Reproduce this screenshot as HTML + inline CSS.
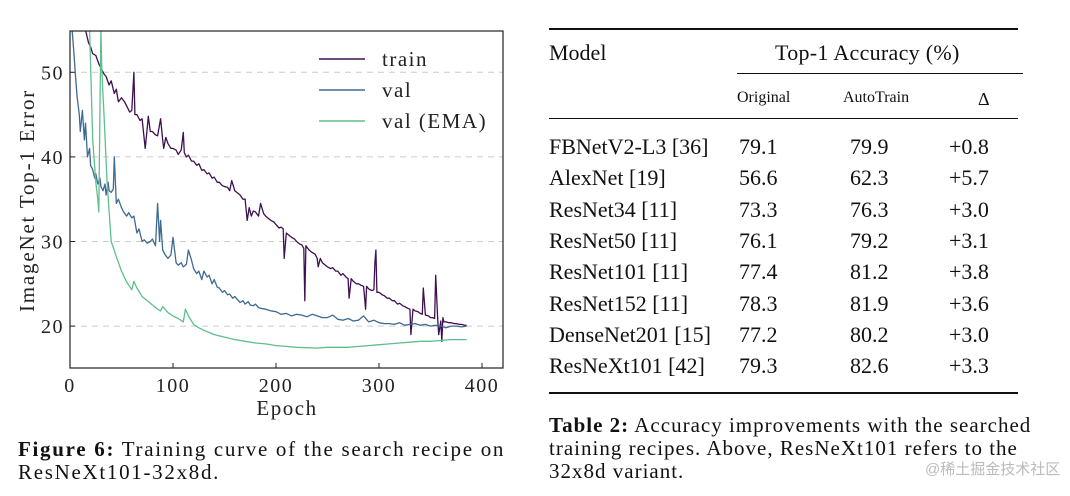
<!DOCTYPE html>
<html><head><meta charset="utf-8">
<style>
html,body{margin:0;padding:0;background:#fff;}
body{width:1070px;height:496px;position:relative;overflow:hidden;font-family:"Liberation Serif","Noto Serif CJK SC",serif;color:#111;}
.abs{position:absolute;white-space:nowrap;}
.rule{position:absolute;background:#111;}
.cap{font-size:21px;line-height:23px;}
</style></head><body>
<svg width="520" height="420" style="position:absolute;left:0;top:0" id="chart"></svg>

<div class="rule" style="left:549px;top:28px;width:469px;height:2px"></div>
<div class="abs" style="left:549px;top:40px;font-size:22px">Model</div>
<div class="abs" style="left:775px;top:40px;font-size:22px;letter-spacing:0.3px">Top-1 Accuracy (%)</div>
<div class="rule" style="left:737px;top:73px;width:286px;height:1px"></div>
<div class="abs" style="left:737px;top:89px;font-size:16px">Original</div>
<div class="abs" style="left:843px;top:89px;font-size:16px">AutoTrain</div>
<div class="abs" style="left:978px;top:89px;font-size:18px">Δ</div>
<div class="rule" style="left:549px;top:118px;width:469px;height:1px"></div>
<div id="rows"></div>
<div class="rule" style="left:549px;top:392px;width:469px;height:2px"></div>

<div class="abs cap" style="left:18px;top:438px;letter-spacing:1.7px"><b>Figure 6:</b> Training curve of the search recipe on<br>ResNeXt101-32x8d.</div>
<div class="abs cap" style="left:549px;top:414px;letter-spacing:1px"><b>Table 2:</b> Accuracy improvements with the searched<br>training recipes. Above, ResNeXt101 refers to the<br>32x8d variant.</div>
<div class="abs" style="left:925px;top:458px;font-size:15px;color:#bbb;font-family:'Liberation Sans','Noto Sans CJK SC',sans-serif">@稀土掘金技术社区</div>

<script>
const models=["FBNetV2-L3 [36]","AlexNet [19]","ResNet34 [11]","ResNet50 [11]","ResNet101 [11]","ResNet152 [11]","DenseNet201 [15]","ResNeXt101 [42]"];
const original=["79.1","56.6","73.3","76.1","77.4","78.3","77.2","79.3"];
const autotrain=["79.9","62.3","76.3","79.2","81.2","81.9","80.2","82.6"];
const delta=["+0.8","+5.7","+3.0","+3.1","+3.8","+3.6","+3.0","+3.3"];
const rowsEl=document.getElementById('rows');
models.forEach((m,i)=>{
  const top=134+i*31.3;
  [[m,549,'model-name'],[original[i],739,'original-value'],[autotrain[i],850,'autotrain-value'],[delta[i],949,'delta-value']].forEach(([t,x,n])=>{
    const d=document.createElement('div');d.className='abs';
    d.style.cssText=`left:${x}px;top:${top}px;font-size:22px`;
    d.textContent=t;
    
    
    rowsEl.appendChild(d);
  });
});

// chart data
const xTicks=[0,100,200,300,400];
const yTicks=[20,30,40,50];
const trainEpochs=[8,12,15,18,20,22,25,28,30,33,35,38,40,43,45,47,50,53,55,58,60,62,63,65,68,70,73,75,76,78,80,83,85,88,90,91,93,95,98,100,103,105,108,110,111,113,115,118,120,123,125,128,130,133,135,138,140,143,145,148,150,153,155,157,160,163,165,168,170,172,174,176,178,180,183,185,188,190,193,195,198,200,203,205,207,208,210,213,215,218,220,223,225,227,228,229,232,235,238,240,241,243,245,248,250,253,255,258,260,263,265,268,270,271,273,275,278,280,283,285,287,288,290,293,295,296,297,298,300,303,305,308,310,313,315,318,320,323,325,328,330,331,333,335,338,340,342,343,345,348,350,352,354,355,357,358,360,361,362,363,365,368,370,373,375,378,380,383,385];
const trainVals=[57,55.5,55,53.5,53,52.2,52,51,50.5,49.8,49.5,48.5,49,47.5,48,46.5,47,46.5,46,45.3,45.5,50,45,45,44.3,44.5,41,43.5,44.8,43,43,42.6,42.5,44.5,42,41,42.3,41.6,41,41,40.8,40.3,40.8,42.9,40.5,40,40.2,39.5,39.5,39,39.2,38.4,38.5,38,38.1,37.5,37.6,37,37,36.6,36.5,36.4,36,37.2,36,35.7,35.5,35,35,32.5,34,33,33.6,33.5,33,34.5,33.3,33,32.7,32.5,32.3,32,31.6,31.7,31.5,28,31,30.7,30.5,30.3,30,29.7,29.6,29.2,23,29.5,29,28.7,28.5,28,27,28,27.5,27.2,27,26.8,26.9,26.5,26.5,26,26.2,25.8,25.6,23.3,25.6,25.3,25,25,24.8,24.7,22,24.7,24.4,24.2,24.3,27.5,29,24,24,23.7,23.6,23.3,23.3,23,23,22.6,22.7,22.4,22.3,22.1,22,19,22,21.8,21.7,21.5,21.4,24.5,21.3,21.2,21,21,20.9,26,20.8,19,20.6,18.2,21,20.5,20.5,20.4,20.4,20.3,20.3,20.2,20.2,20.1,20.1];
const valEpochs=[2,4,5,7,9,10,12,14,15,17,19,20,22,24,25,27,29,30,32,34,35,37,38,40,42,43,45,47,50,52,55,57,60,62,65,67,70,72,75,78,80,83,85,87,88,90,92,95,98,100,103,105,108,110,113,115,118,120,123,125,128,130,133,135,138,140,143,145,148,150,153,155,158,160,163,165,168,170,173,175,178,180,183,185,190,195,200,205,210,215,220,225,230,235,240,245,250,255,260,265,270,275,280,285,290,295,300,305,310,315,320,325,330,335,340,345,350,355,360,365,370,375,380,385];
const valVals=[55,52,50,47,45,43,45.5,42,44,40,41,39,38.5,37.5,38,36.8,37.5,36.5,36,36.8,35.5,37,36,35.8,36.2,40,34.5,35,34,33.5,33,33.4,32.8,33,31,31.5,30,30.2,29.8,30,30.3,29.5,34.5,30,32.5,29,28.5,28,28.4,30.5,27.5,27.2,27.5,27,27.3,29,27.8,26.8,26.2,26.5,25.5,26.5,25.8,26,25,25.5,24.6,24.5,24,24.2,23.7,23.8,23.3,23.5,23.1,22.8,23,22.6,22.9,22.5,22.4,22.6,22.2,22.1,22,21.8,21.7,21.4,21.5,21.2,21.4,21.3,21.1,21.4,21.2,21,21,21.3,20.8,20.7,20.9,20.6,20.7,21.2,20.5,20.7,20.4,20.3,20.3,20.2,20.4,20.1,20.2,20.3,20.1,20.2,20,20.1,20,19.8,20,20,19.9,20];
const emaEpochs=[19,22,25,27,28,29,30,31,33,36,40,42,45,50,55,60,62,65,70,75,80,85,88,90,95,100,105,110,112,115,120,125,130,140,150,160,170,180,190,200,210,220,230,240,250,260,270,280,290,300,310,320,330,340,350,360,370,385];
const emaVals=[55,42,37,35,33.5,45,55,50,45,37,30,29.3,28.2,26.5,25.2,24.3,25.3,24.5,23.5,23,22.5,22,21.8,22.3,21.6,21.2,20.9,20.5,22,21.2,20.2,19.8,19.5,19,18.7,18.4,18.2,18,17.9,17.7,17.6,17.5,17.45,17.4,17.5,17.5,17.5,17.6,17.7,17.8,17.9,18,18.1,18.2,18.2,18.3,18.4,18.4];
const series=[["train",trainEpochs,trainVals,"#3d1151"],["val",valEpochs,valVals,"#3e6a92"],["val (EMA)",emaEpochs,emaVals,"#5fbf8c"]];

const NS="http://www.w3.org/2000/svg";
const svg=document.getElementById('chart');
const L=70,R=503,T=31,B=368;
const sx=v=>70+v*1.03;
const sy=v=>72.3+(50-v)*8.46;
function mk(tag,attrs,parent){const e=document.createElementNS(NS,tag);for(const k in attrs)e.setAttribute(k,attrs[k]);(parent||svg).appendChild(e);return e;}
const defs=mk('defs',{});const cp=mk('clipPath',{id:'clip'},defs);mk('rect',{x:L,y:T,width:R-L,height:B-T},cp);
yTicks.forEach(v=>{
  const g=mk('line',{x1:L,x2:R,y1:sy(v),y2:sy(v),stroke:'#ccc','stroke-dasharray':'6,5','stroke-width':1});
  
  
  mk('line',{x1:L,x2:L+5,y1:sy(v),y2:sy(v),stroke:'#222'});
  const t=mk('text',{x:L-6,y:sy(v)+7,'text-anchor':'end','font-size':20,'letter-spacing':1.5,fill:'#222'});t.textContent=v;
  
  
});
xTicks.forEach(v=>{
  mk('line',{x1:sx(v),x2:sx(v),y1:B,y2:B-5,stroke:'#222'});
  const t=mk('text',{x:sx(v),y:B+24,'text-anchor':'middle','font-size':20,'letter-spacing':1.5,fill:'#222'});t.textContent=v;
  
  
});
const g=mk('g',{'clip-path':'url(#clip)'});
series.forEach(([name,xs,ys,col])=>{
  const p=mk('path',{d:xs.map((x,i)=>(i?'L':'M')+sx(x).toFixed(1)+','+sy(ys[i]).toFixed(1)).join(''),fill:'none',stroke:col,'stroke-width':1.3,'stroke-linejoin':'round'},g);
  
  
});
series.forEach(([name,xs,ys,col],i)=>{
  const y=59+i*31;
  mk('line',{x1:319,x2:365,y1:y,y2:y,stroke:col,'stroke-width':1.5});
  const t=mk('text',{x:382,y:y+7,'font-size':21,'letter-spacing':1.5,fill:'#222'});t.textContent=name;
  
  
});
const fr=mk('rect',{x:L,y:T,width:R-L,height:B-T,fill:'none',stroke:'#222','stroke-width':1.2});


const xl=mk('text',{x:287,y:415,'text-anchor':'middle','font-size':21,'letter-spacing':1.5,fill:'#222'});xl.textContent='Epoch';


const yl=mk('text',{x:0,y:0,'text-anchor':'middle','font-size':21,'letter-spacing':1.8,fill:'#222',transform:`translate(34,${(T+B)/2+1}) rotate(-90)`});yl.textContent='ImageNet Top-1 Error';


</script>
</body></html>
